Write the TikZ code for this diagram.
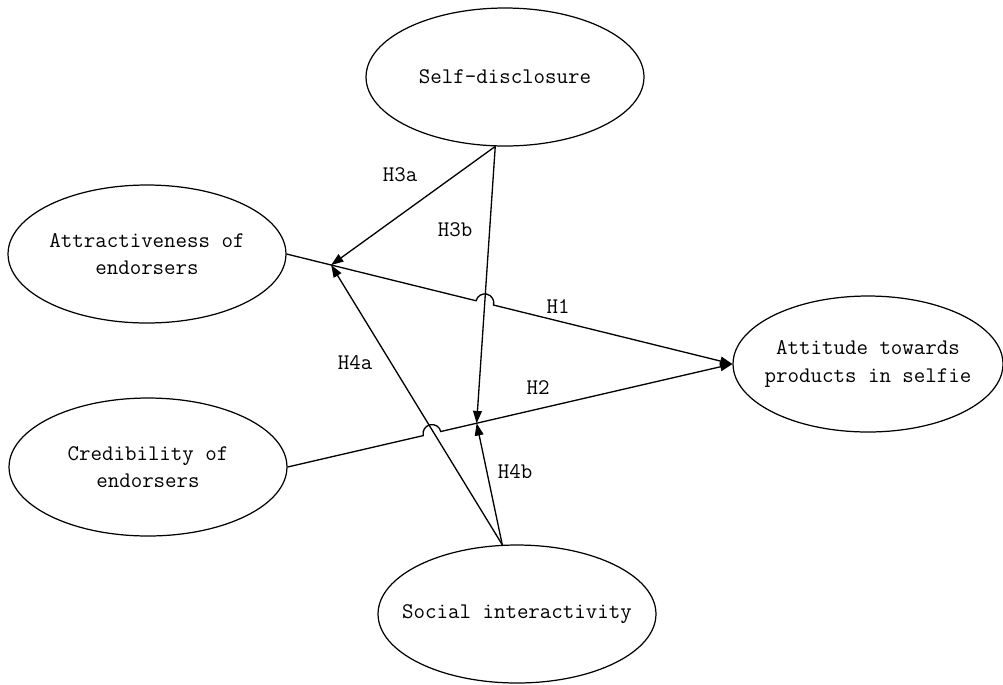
\documentclass[tikz,border=0pt]{standalone}
\usepackage{xcolor}
\usepackage{tikz}
\usetikzlibrary{arrows.meta,shapes.geometric,calc}

\begin{document}
\begin{tikzpicture}[
  x=0.02cm, y=-0.02cm,
  font=\ttfamily\fontsize{12.7}{15.5}\selectfont,
  construct/.style={draw, ellipse, line width=0.7pt, align=center, inner xsep=-0.8cm, inner ysep=0pt, minimum width=5.56cm, minimum height=2.76cm, text=black},
  hyp/.style={text=black, inner sep=1pt},
  arr/.style={-{Triangle[length=7pt,width=5pt]}, line width=0.75pt}
]
  \useasboundingbox (0,0) rectangle (1003,684);

  % constructs
  \node[construct] (self) at (505,77) {Self-disclosure};
  \node[construct] (attr) at (147,254) {Attractiveness of\\endorsers};
  \node[construct] (cred) at (148,467) {Credibility of\\endorsers};
  \node[construct, minimum width=5.4cm, minimum height=2.72cm] (att) at (868,364) {Attitude towards\\products in selfie};
  \node[construct] (social) at (517,614) {Social interactivity};

  % points where the moderating arrows meet the main paths
  \coordinate (hA) at ($(attr.east)!0.1!(att.west)$);
  \coordinate (hB) at ($(cred.east)!0.425!(att.west)$);

  % main paths, with a hop over the crossing lines
  \draw[arr] (attr.east) -- ($(attr.east)!0.425!(att.west)$)
    arc[start angle=193.8, end angle=373.8, radius=9] -- (att.west);
  \draw[arr] (cred.east) -- ($(cred.east)!0.305!(att.west)$)
    arc[start angle=166.9, end angle=346.9, radius=9] -- (att.west);

  % moderators
  \draw[arr] (self.262) -- (hA);
  \draw[arr] (self.262) -- (hB);
  \draw[arr] (social.102) -- (hA);
  \draw[arr] (social.102) -- (hB);

  % labels
  \node[hyp] (h1) at (558,307) {H1};
  \node[hyp] (h2) at (538,388) {H2};
  \node[hyp] (h3a) at (400,175) {H3a};
  \node[hyp] (h3b) at (455,230) {H3b};
  \node[hyp] (h4a) at (355,363) {H4a};
  \node[hyp] (h4b) at (515,472) {H4b};
\end{tikzpicture}
\end{document}
